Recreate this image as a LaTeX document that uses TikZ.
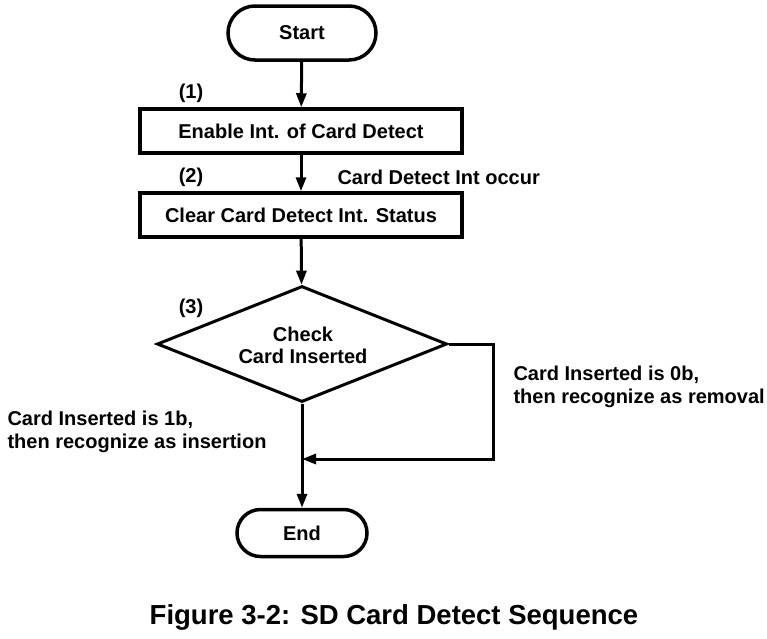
\documentclass[tikz,border=0pt]{standalone}
\usepackage{fontspec}
\setmainfont{Liberation Sans}
\usetikzlibrary{positioning, shapes, arrows.meta, calc}

\begin{document}
\begin{tikzpicture}[x=1pt, y=-1pt,
    every node/.style={font=\bfseries\fontsize{20}{23}\selectfont},
    termbox/.style={draw, line width=3.5pt, rounded rectangle, inner sep=0pt,
      minimum height=54pt},
    procbox/.style={draw, line width=3.5pt, inner sep=0pt,
      minimum width=322pt, minimum height=44pt},
    checkbox/.style={draw, line width=3pt, diamond, aspect=2.5, inner sep=0pt,
      minimum width=290pt, minimum height=116pt, align=center},
    flow/.style={line width=3pt, -{Triangle[length=14pt, width=10pt]}}]
    \useasboundingbox (0,0) rectangle (767,638);

    % boxes
    \node[termbox, minimum width=148pt] (start) at (302,33) {Start};
    \node[procbox] (enable) at (301,131) {Enable Int. of Card Detect};
    \node[procbox] (clear) at (301,215) {Clear Card Detect Int. Status};
    \node[checkbox] (check) at (302,344) {};
    \node[align=center, font=\bfseries\fontsize{20}{22}\selectfont] (checktext) at (303,345)
      {Check\\Card Inserted};
    \node[termbox, minimum width=130pt, minimum height=47pt] (end) at (302,533) {End};

    % step numbers
    \foreach \n/\y in {1/93, 2/177, 3/308}{
      \node (num\n) at (191,\y) {(\n)};
    }

    % labels
    \node[anchor=west] (occur) at (334,177) {Card Detect Int occur};
    \node[anchor=west, align=left] (removal) at (510,387)
      {Card Inserted is 0b,\\then recognize as removal};
    \node[anchor=west, align=left] (insertion) at (4,432)
      {Card Inserted is 1b,\\then recognize as insertion};

    % connectors
    \coordinate (turn) at (493,459);
    \coordinate (join) at (302,459);
    \draw[flow] (start) -- (enable);
    \draw[flow] (enable) -- (clear);
    \draw[flow] (clear) -- (check);
    \draw[flow] (check) -- (end);
    \draw[flow] (check.east) -| (turn) -- (join);

    % caption
    \node[font=\bfseries\fontsize{27.5}{32}\selectfont] (caption) at (394,617)
      {Figure 3-2: SD Card Detect Sequence};
  \end{tikzpicture}
\end{document}
